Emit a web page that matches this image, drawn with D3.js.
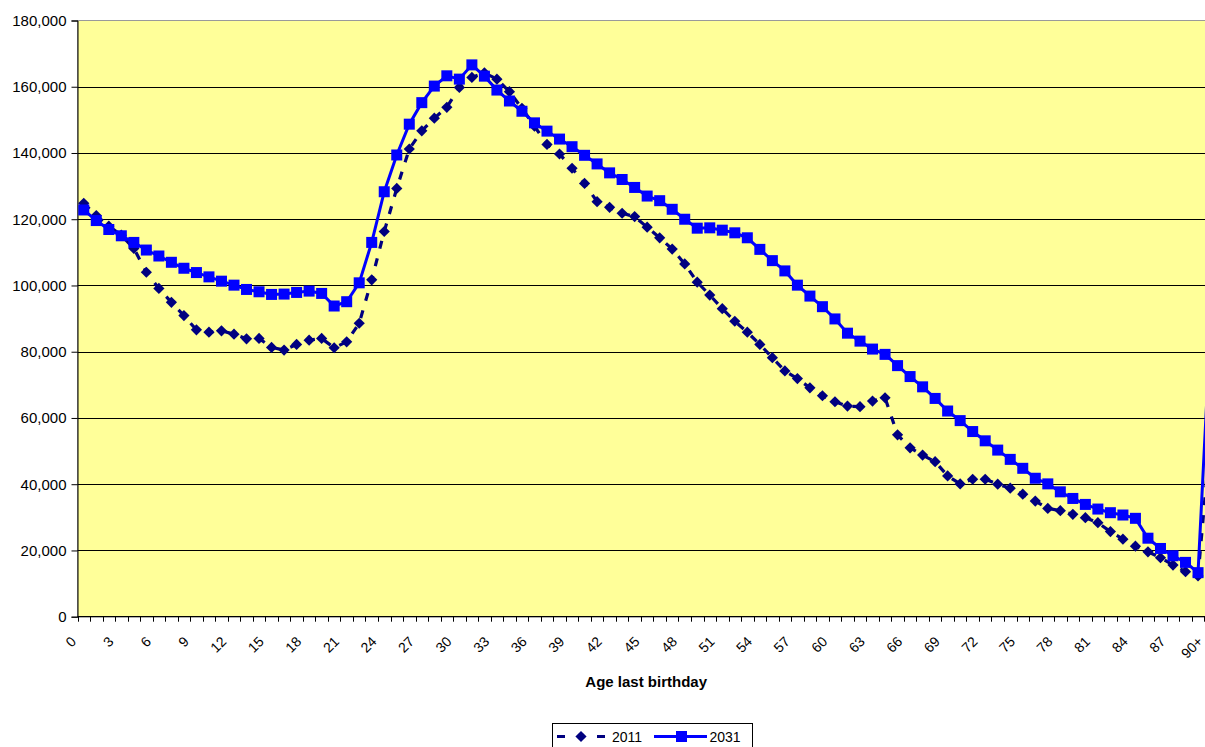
<!DOCTYPE html>
<html>
<head>
<meta charset="utf-8">
<script src="https://cdn.jsdelivr.net/npm/d3@7"></script>
<style>
  html, body { margin: 0; padding: 0; background: #ffffff; overflow: hidden; }
  svg { display: block; }
  text { font-family: "Liberation Sans", Arial, sans-serif; fill: #000; }
</style>
</head>
<body>
<svg id="chart" width="1205" height="747"></svg>
<script>
// ---- data ----
const ages = ["0","1","2","3","4","5","6","7","8","9",
  "10","11","12","13","14","15","16","17","18","19",
  "20","21","22","23","24","25","26","27","28","29",
  "30","31","32","33","34","35","36","37","38","39",
  "40","41","42","43","44","45","46","47","48","49",
  "50","51","52","53","54","55","56","57","58","59",
  "60","61","62","63","64","65","66","67","68","69",
  "70","71","72","73","74","75","76","77","78","79",
  "80","81","82","83","84","85","86","87","88","89","90+"];

const pop2011 = [124800,121100,117900,115200,111200,104000,99100,94900,90900,86600,
  85900,86300,85300,83900,84000,81300,80500,82200,83500,84000,
  81200,83000,88600,101700,116300,129300,141200,146700,150500,153800,
  159800,162800,164200,162300,158500,153500,148100,142600,139700,135400,
  130800,125300,123600,121800,120800,117600,114400,111000,106500,101000,
  97100,93000,89200,85900,82200,78200,74200,71900,69100,66700,
  64900,63600,63400,65100,66100,54900,51000,48800,46800,42500,
  40100,41500,41500,40000,38800,37000,34900,32700,32000,30900,
  29900,28400,25700,23400,21300,19600,17800,15600,13600,12300,55000];

const pop2031 = [122800,119600,116900,115000,113000,110700,108900,107000,105200,103900,
  102600,101300,100100,98800,98100,97300,97400,97900,98300,97600,
  93800,95100,100800,113000,128300,139400,148700,155200,160200,163300,
  162300,166600,163200,159000,155700,152600,149100,146600,144200,141900,
  139300,136700,134000,132000,129600,127000,125600,123000,120000,117300,
  117400,116700,115900,114400,110900,107500,104400,100100,96800,93600,
  89900,85600,83200,80800,79200,75800,72500,69400,65900,62100,
  59200,55900,53100,50300,47500,44800,41800,40100,37700,35700,
  33900,32500,31400,30700,29700,23700,20600,18400,16400,13300,88000];

const yTicks = [0,20000,40000,60000,80000,100000,120000,140000,160000,180000];
const xTickLabels = ages.filter((d, i) => i % 3 === 0);
const seriesNames = ["2011", "2031"];
const xTitle = "Age last birthday";

// ---- layout ----
const svg = d3.select("#chart");
const pLeft = 77.5, pTop = 20.5, pBottom = 616.7;
const band = 12.52;
const pRight = pLeft + band * ages.length;

const x = d3.scaleBand().domain(ages).range([pLeft, pRight]).paddingInner(0).paddingOuter(0);
const xc = d => x(d) + x.bandwidth() / 2;
const y = d3.scaleLinear().domain([0, 180000]).range([pBottom, pTop]);

// plot background
svg.append("rect")
  .attr("x", pLeft).attr("y", pTop)
  .attr("width", pRight - pLeft).attr("height", pBottom - pTop)
  .attr("fill", "#FFFF99")
  .attr("stroke", "#9a9a9a").attr("stroke-width", 1);

// gridlines
svg.append("g").selectAll("line")
  .data(yTicks.filter(v => v > 0 && v < 180000))
  .join("line")
  .attr("x1", pLeft).attr("x2", pRight)
  .attr("y1", d => Math.round(y(d)) + 0.5).attr("y2", d => Math.round(y(d)) + 0.5)
  .attr("stroke", "#000").attr("stroke-width", 1);

// y axis
const yAxis = svg.append("g")
  .attr("transform", `translate(${pLeft},0)`)
  .call(d3.axisLeft(y).tickValues(yTicks).tickSize(6).tickPadding(5).tickFormat(d3.format(",")));
yAxis.select(".domain").attr("stroke", "#000");
yAxis.selectAll(".tick line").attr("stroke", "#000");
yAxis.selectAll("text").style("font-size", "15px").attr("fill", "#000")
  .style("font-family", "'Liberation Sans', Arial, sans-serif");

// x axis line + ticks at category boundaries
svg.append("line")
  .attr("x1", pLeft).attr("x2", pRight)
  .attr("y1", pBottom).attr("y2", pBottom)
  .attr("stroke", "#000").attr("stroke-width", 1.2);
svg.append("g").selectAll("line")
  .data(ages.concat(["__end"]))
  .join("line")
  .attr("x1", (d, i) => Math.round(pLeft + i * x.bandwidth()) + 0.5)
  .attr("x2", (d, i) => Math.round(pLeft + i * x.bandwidth()) + 0.5)
  .attr("y1", pBottom).attr("y2", pBottom + 5)
  .attr("stroke", "#000").attr("stroke-width", 1);

// x tick labels rotated
svg.append("g").selectAll("text")
  .data(xTickLabels)
  .join("text")
  .attr("transform", d => `translate(${xc(d) - 10.3},${639}) rotate(-45)`)
  .attr("text-anchor", "end")
  .attr("dominant-baseline", "central")
  .style("font-size", "14px")
  .text(d => d);

// x title
svg.append("text")
  .attr("x", (pLeft + pRight) / 2 - 1).attr("y", 687)
  .attr("text-anchor", "middle")
  .style("font-size", "15px").style("font-weight", "bold")
  .text(xTitle);

// ---- series ----
const line = d3.line().x((d, i) => xc(ages[i])).y(d => y(d));

// 2011 dashed navy with diamonds
svg.append("path")
  .datum(pop2011)
  .attr("d", line)
  .attr("fill", "none")
  .attr("stroke", "#000080").attr("stroke-width", 3.2)
  .attr("stroke-dasharray", "8,10");

const diamond = (cx, cy, r) => `M${cx},${cy - r}L${cx + r},${cy}L${cx},${cy + r}L${cx - r},${cy}Z`;
svg.append("g").selectAll("path")
  .data(pop2011)
  .join("path")
  .attr("d", (d, i) => diamond(xc(ages[i]), y(d), 5.6))
  .attr("fill", "#000080");

// 2031 solid blue with squares
svg.append("path")
  .datum(pop2031)
  .attr("d", line)
  .attr("fill", "none")
  .attr("stroke", "#0000FF").attr("stroke-width", 3);

const sq = 11;
svg.append("g").selectAll("rect")
  .data(pop2031)
  .join("rect")
  .attr("x", (d, i) => xc(ages[i]) - sq / 2)
  .attr("y", d => y(d) - sq / 2)
  .attr("width", sq).attr("height", sq)
  .attr("fill", "#0000FF");

// ---- legend ----
const lg = svg.append("g");
lg.append("rect")
  .attr("x", 552.5).attr("y", 723.5)
  .attr("width", 200).attr("height", 40)
  .attr("fill", "#fff").attr("stroke", "#000").attr("stroke-width", 1);
const ly = 736.5;
lg.append("line")
  .attr("x1", 557).attr("x2", 605).attr("y1", ly).attr("y2", ly)
  .attr("stroke", "#000080").attr("stroke-width", 3.2)
  .attr("stroke-dasharray", "8,12");
lg.append("path").attr("d", diamond(581, ly, 5.6)).attr("fill", "#000080");
lg.append("text").attr("x", 612).attr("y", ly).attr("dominant-baseline", "central")
  .style("font-size", "14px").text(seriesNames[0]);
lg.append("line")
  .attr("x1", 654).attr("x2", 707).attr("y1", ly).attr("y2", ly)
  .attr("stroke", "#0000FF").attr("stroke-width", 3);
lg.append("rect").attr("x", 681.5 - sq / 2).attr("y", ly - sq / 2)
  .attr("width", sq).attr("height", sq).attr("fill", "#0000FF");
lg.append("text").attr("x", 709.5).attr("y", ly).attr("dominant-baseline", "central")
  .style("font-size", "14px").text(seriesNames[1]);
</script>
</body>
</html>
